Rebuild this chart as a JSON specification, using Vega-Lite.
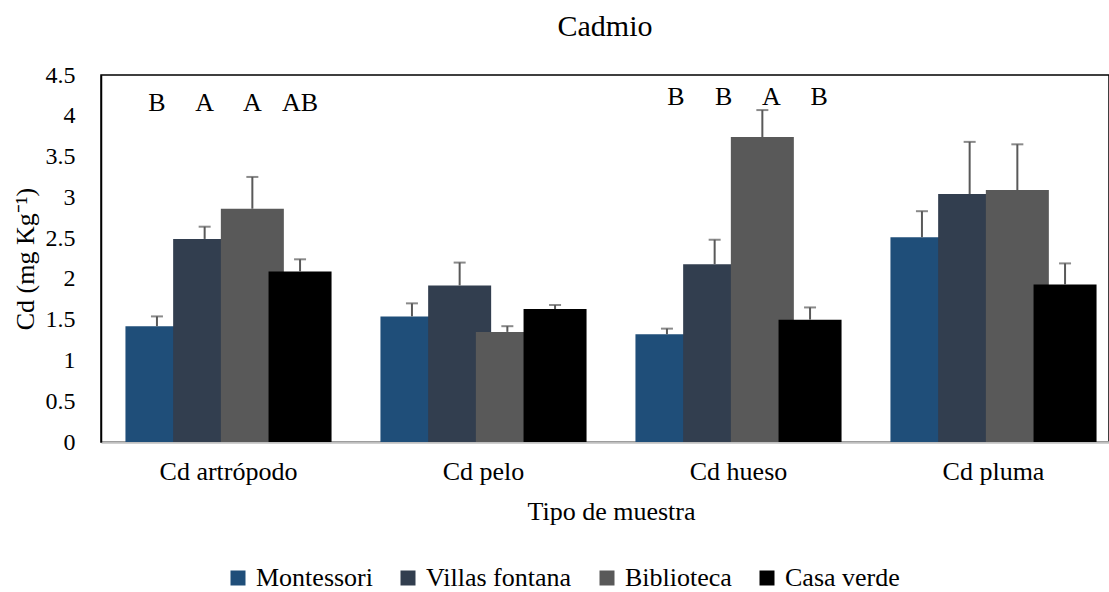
{
  "$schema": "https://vega.github.io/schema/vega-lite/v6.json",
  "width": 1008,
  "height": 367,
  "autosize": "none",
  "padding": {"left": 101, "top": 75, "right": 0, "bottom": 150},
  "background": "white",
  "config": {
    "font": "Liberation Serif, Times New Roman, serif",
    "view": {"stroke": "black", "strokeWidth": 1.5}
  },
  "title": {"text": "Cadmio", "fontSize": 30, "fontWeight": "normal", "color": "black", "font": "Liberation Serif, Times New Roman, serif", "anchor": "middle", "frame": "group", "offset": 21},
  "datasets": {
    "bars": [
      {"group": "Cd artrópodo", "site": "Montessori", "value": 1.42, "upper": 1.54},
      {"group": "Cd artrópodo", "site": "Villas fontana", "value": 2.49, "upper": 2.64},
      {"group": "Cd artrópodo", "site": "Biblioteca", "value": 2.86, "upper": 3.25},
      {"group": "Cd artrópodo", "site": "Casa verde", "value": 2.09, "upper": 2.24},
      {"group": "Cd pelo", "site": "Montessori", "value": 1.54, "upper": 1.70},
      {"group": "Cd pelo", "site": "Villas fontana", "value": 1.92, "upper": 2.20},
      {"group": "Cd pelo", "site": "Biblioteca", "value": 1.35, "upper": 1.42},
      {"group": "Cd pelo", "site": "Casa verde", "value": 1.63, "upper": 1.68},
      {"group": "Cd hueso", "site": "Montessori", "value": 1.32, "upper": 1.39},
      {"group": "Cd hueso", "site": "Villas fontana", "value": 2.18, "upper": 2.48},
      {"group": "Cd hueso", "site": "Biblioteca", "value": 3.74, "upper": 4.07},
      {"group": "Cd hueso", "site": "Casa verde", "value": 1.50, "upper": 1.65},
      {"group": "Cd pluma", "site": "Montessori", "value": 2.51, "upper": 2.83},
      {"group": "Cd pluma", "site": "Villas fontana", "value": 3.04, "upper": 3.68},
      {"group": "Cd pluma", "site": "Biblioteca", "value": 3.09, "upper": 3.65},
      {"group": "Cd pluma", "site": "Casa verde", "value": 1.93, "upper": 2.19}
    ],
    "letters": [
      {"group": "Cd artrópodo", "site": "Montessori", "letter": "B"},
      {"group": "Cd artrópodo", "site": "Villas fontana", "letter": "A"},
      {"group": "Cd artrópodo", "site": "Biblioteca", "letter": "A"},
      {"group": "Cd artrópodo", "site": "Casa verde", "letter": "AB"},
      {"group": "Cd hueso", "site": "Montessori", "letter": "B"},
      {"group": "Cd hueso", "site": "Villas fontana", "letter": "B"},
      {"group": "Cd hueso", "site": "Biblioteca", "letter": "A"},
      {"group": "Cd hueso", "site": "Casa verde", "letter": "B"}
    ]
  },
  "encoding": {
    "x": {
      "field": "group", "type": "nominal",
      "sort": ["Cd artrópodo", "Cd pelo", "Cd hueso", "Cd pluma"],
      "scale": {"range": [0, 1020], "paddingInner": 0, "paddingOuter": 0},
      "axis": {
        "title": "Tipo de muestra", "titleFontSize": 26, "titleFontWeight": "normal", "titleColor": "black",
        "titleBaseline": "top", "titleY": 56,
        "labelFontSize": 26, "labelColor": "black", "labelAngle": 0, "labelPadding": 16, "labelLimit": 0,
        "ticks": false, "domainColor": "#BFBFBF", "domainWidth": 2.5
      }
    },
    "xOffset": {
      "field": "site", "type": "nominal",
      "sort": ["Montessori", "Villas fontana", "Biblioteca", "Casa verde"],
      "scale": {"paddingInner": 0, "paddingOuter": 0.673}
    }
  },
  "layer": [
    {
      "data": {"name": "bars"},
      "mark": {"type": "bar", "width": 63},
      "encoding": {
        "y": {
          "field": "value", "type": "quantitative",
          "scale": {"domain": [0, 4.5], "nice": false, "zero": true},
          "axis": {
            "title": "Cd (mg Kg⁻¹)", "titleFontSize": 26, "titleFontWeight": "normal", "titleColor": "black",
            "titleAngle": -90, "titleX": -76, "titleY": 183.5, "titleAlign": "center", "titleBaseline": "middle",
            "values": [0, 0.5, 1, 1.5, 2, 2.5, 3, 3.5, 4, 4.5], "format": "~g",
            "labelFontSize": 24, "labelColor": "black", "labelPadding": 26,
            "ticks": false, "grid": false, "domainColor": "black", "domainWidth": 1.5
          }
        },
        "color": {
          "field": "site", "type": "nominal",
          "sort": ["Montessori", "Villas fontana", "Biblioteca", "Casa verde"],
          "scale": {"domain": ["Montessori", "Villas fontana", "Biblioteca", "Casa verde"], "range": ["#1F4E79", "#323E4F", "#595959", "#000000"]},
          "legend": {
            "title": null, "orient": "none", "legendX": 124, "legendY": 490, "direction": "horizontal",
            "symbolType": "square", "symbolSize": 225, "symbolStrokeWidth": 0,
            "labelFontSize": 26, "labelColor": "black", "labelOffset": 5, "labelLimit": 0,
            "columnPadding": 22, "padding": 0
          }
        }
      }
    },
    {
      "data": {"name": "bars"},
      "mark": {"type": "rule", "color": "#595959", "strokeWidth": 2},
      "encoding": {
        "y": {"field": "value", "type": "quantitative"},
        "y2": {"field": "upper"}
      }
    },
    {
      "data": {"name": "bars"},
      "mark": {"type": "tick", "color": "#595959", "size": 12, "thickness": 2},
      "encoding": {
        "y": {"field": "upper", "type": "quantitative"}
      }
    },
    {
      "data": {"name": "letters"},
      "transform": [{"filter": "datum.group === 'Cd artrópodo'"}],
      "mark": {"type": "text", "fontSize": 26, "color": "black", "baseline": "middle"},
      "encoding": {
        "y": {"datum": 4.157},
        "text": {"field": "letter"}
      }
    },
    {
      "data": {"name": "letters"},
      "transform": [{"filter": "datum.group === 'Cd hueso'"}],
      "mark": {"type": "text", "fontSize": 26, "color": "black", "baseline": "middle", "dx": 9},
      "encoding": {
        "y": {"datum": 4.23},
        "text": {"field": "letter"}
      }
    }
  ]
}
